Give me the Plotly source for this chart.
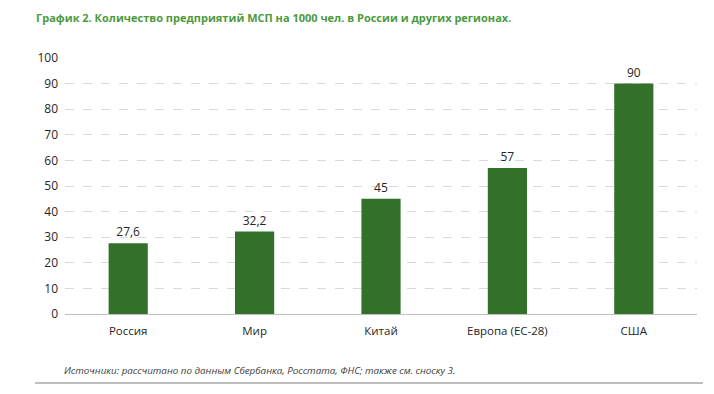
import plotly.graph_objects as go

categories = ["Россия", "Мир", "Китай", "Европа (ЕС-28)", "США"]
values = [27.6, 32.2, 45, 57, 90]
y_ticks = [0, 10, 20, 30, 40, 50, 60, 70, 80, 90, 100]

labels = [("%g" % v).replace(".", ",") for v in values]

FONT = "Open Sans, Noto Sans, sans-serif"
W, H = 706, 386
OFF = 8  # page body margin

fig = go.Figure()
fig.add_trace(go.Bar(
    x=categories, y=values,
    text=labels, textposition="outside", cliponaxis=False,
    textfont=dict(family=FONT, size=12, color="#262626"),
    marker=dict(color="#33712a", line=dict(width=0)),
    width=0.31,
))

fig.update_layout(
    width=W, height=H,
    margin=dict(l=65-OFF, r=714-697, t=58-OFF, b=394-314),
    paper_bgcolor="white", plot_bgcolor="white",
    showlegend=False,
    title=dict(
        text="<b>График 2. Количество предприятий МСП на 1000 чел. в России и других регионах.</b>",
        x=(36-OFF)/W, xref="container", xanchor="left",
        y=1-(18-OFF)/H, yref="container", yanchor="middle",
        font=dict(family=FONT, size=11, color="#4c9a3e"),
    ),
    xaxis=dict(
        showline=True, linecolor="#bfbfbf", linewidth=1,
        ticks="", tickfont=dict(family=FONT, size=11.5, color="#262626"),
        showgrid=False, ticklabelstandoff=6,
    ),
    yaxis=dict(
        range=[0, 100], tickvals=y_ticks,
        showgrid=True, gridcolor="#d9d9d9", griddash="dash", gridwidth=1,
        zeroline=False, showline=False, ticks="",
        tickfont=dict(family=FONT, size=12, color="#262626"),
        ticklabelstandoff=6,
    ),
    shapes=[dict(type="line", xref="paper", yref="paper",
                 x0=(35-65)/632, x1=(703-65)/632,
                 y0=(314-383)/256, y1=(314-383)/256,
                 line=dict(color="#7f7f7f", width=1))],
    annotations=[dict(
        text="<i>Источники: рассчитано по данным Сбербанка, Росстата, ФНС; также см. сноску 3.</i>",
        xref="paper", yref="paper", x=(62-65)/632, y=(314-370)/256,
        xanchor="left", yanchor="middle", showarrow=False,
        font=dict(family=FONT, size=9.8, color="#404040"),
    )],
)

fig.write_html("out.html")
